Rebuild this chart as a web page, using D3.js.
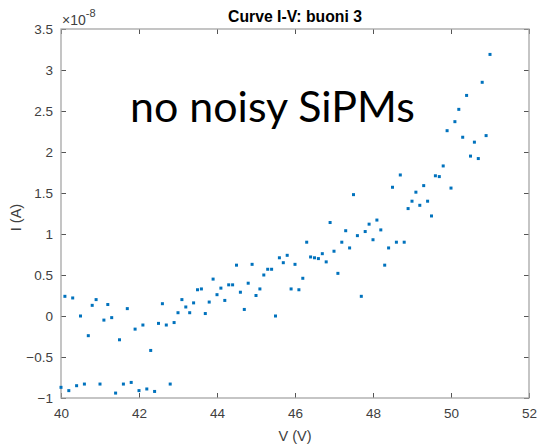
<!DOCTYPE html>
<html>
<head>
<meta charset="utf-8">
<script src="https://cdn.jsdelivr.net/npm/d3@7"></script>
<style>
  body { margin: 0; background: #fff; }
  svg { display: block; }
  text { font-family: "Liberation Sans", Arial, Helvetica, sans-serif; }
</style>
</head>
<body>
<div id="chart"></div>
<script>
// DATA ////////////////////////////////////////////////////////////
// voltage (V)
var voltage = [
  40.0, 40.1, 40.2, 40.3, 40.4, 40.5, 40.6, 40.7, 40.8, 40.9,
  41.0, 41.1, 41.2, 41.3, 41.4, 41.5, 41.6, 41.7, 41.8, 41.9,
  42.0, 42.1, 42.2, 42.3, 42.4, 42.5, 42.6, 42.7, 42.8, 42.9,
  43.0, 43.1, 43.2, 43.3, 43.4, 43.5, 43.6, 43.7, 43.8, 43.9,
  44.0, 44.1, 44.2, 44.3, 44.4, 44.5, 44.6, 44.7, 44.8, 44.9,
  45.0, 45.1, 45.2, 45.3, 45.4, 45.5, 45.6, 45.7, 45.8, 45.9,
  46.0, 46.1, 46.2, 46.3, 46.4, 46.5, 46.6, 46.7, 46.8, 46.9,
  47.0, 47.1, 47.2, 47.3, 47.4, 47.5, 47.6, 47.7, 47.8, 47.9,
  48.0, 48.1, 48.2, 48.3, 48.4, 48.5, 48.6, 48.7, 48.8, 48.9,
  49.0, 49.1, 49.2, 49.3, 49.4, 49.5, 49.6, 49.7, 49.8, 49.9,
  50.0, 50.1, 50.2, 50.3, 50.4, 50.5, 50.6, 50.7, 50.8, 50.9,
  51.0
];
// current, in units of 1e-8 A
var current = [
  -0.87, 0.24, -0.91, 0.22, -0.85, 0.00, -0.83, -0.24, 0.13, 0.20,
  -0.83, -0.05, 0.14, -0.02, -0.94, -0.29, -0.83, 0.09, -0.81, -0.16,
  -0.91, -0.11, -0.89, -0.42, -0.92, -0.09, 0.15, -0.11, -0.83, -0.08,
  0.04, 0.20, 0.11, 0.04, 0.16, 0.32, 0.33, 0.03, 0.17, 0.45,
  0.26, 0.34, 0.19, 0.38, 0.38, 0.62, 0.29, 0.08, 0.40, 0.63,
  0.25, 0.33, 0.50, 0.57, 0.57, 0.00, 0.71, 0.65, 0.74, 0.33,
  0.63, 0.32, 0.46, 0.90, 0.72, 0.71, 0.70, 0.76, 0.66, 1.14,
  0.79, 0.52, 0.90, 1.04, 0.83, 1.48, 0.98, 0.24, 1.03, 1.12,
  0.93, 1.17, 1.05, 0.62, 0.83, 1.57, 0.90, 1.72, 0.90, 1.31,
  1.40, 1.51, 1.35, 1.59, 1.40, 1.22, 1.71, 1.70, 1.83, 2.26,
  1.56, 2.37, 2.52, 2.18, 2.69, 1.95, 2.12, 1.92, 2.85, 2.20,
  3.19
];
var xTicks = [40, 42, 44, 46, 48, 50, 52];
var yTicks = [-1, -0.5, 0, 0.5, 1, 1.5, 2, 2.5, 3, 3.5];

// SETUP ///////////////////////////////////////////////////////////
var width = 539, height = 446;
var margin = {top: 29, right: 10, bottom: 48, left: 61};
var plotW = width - margin.left - margin.right;
var plotH = height - margin.top - margin.bottom;

var svg = d3.select("#chart").append("svg")
  .attr("width", width).attr("height", height);

var x = d3.scaleLinear().domain([40, 52]).range([margin.left, margin.left + plotW]);
var y = d3.scaleLinear().domain([-1, 3.5]).range([margin.top + plotH, margin.top]);

var boxColor = "#a6a6a6";

// AXES ////////////////////////////////////////////////////////////
function styleAxis(g){
  g.select(".domain").remove();
  g.selectAll(".tick line").attr("stroke", "#555");
  g.selectAll(".tick text").attr("fill", "#404040").style("font-size", "13.5px");
}

svg.append("g").attr("transform", "translate(0," + (margin.top + plotH) + ")")
  .call(d3.axisBottom(x).tickValues(xTicks).tickSize(-5).tickPadding(10).tickFormat(d3.format("d")))
  .call(styleAxis);
svg.append("g").attr("transform", "translate(0," + margin.top + ")")
  .call(d3.axisTop(x).tickValues(xTicks).tickSize(-5).tickFormat(""))
  .call(styleAxis);
svg.append("g").attr("transform", "translate(" + margin.left + ",0)")
  .call(d3.axisLeft(y).tickValues(yTicks).tickSize(-5).tickPadding(8).tickFormat(d3.format("")))
  .call(styleAxis);
svg.append("g").attr("transform", "translate(" + (margin.left + plotW) + ",0)")
  .call(d3.axisRight(y).tickValues(yTicks).tickSize(-5).tickFormat(""))
  .call(styleAxis);

// box
svg.append("rect")
  .attr("x", margin.left).attr("y", margin.top)
  .attr("width", plotW).attr("height", plotH)
  .attr("fill", "none").attr("stroke", boxColor).attr("stroke-width", 1.3);

// POINTS //////////////////////////////////////////////////////////
svg.append("g").attr("class", "points")
  .selectAll("rect").data(voltage)
  .enter().append("rect")
  .attr("x", function(d){ return x(d) - 1.5; })
  .attr("y", function(d, i){ return y(current[i]) - 1.5; })
  .attr("width", 3).attr("height", 3)
  .attr("fill", "#0072BD");

// TEXT ////////////////////////////////////////////////////////////
var title = svg.append("text")
  .attr("x", margin.left + plotW / 2).attr("y", 22)
  .attr("text-anchor", "middle")
  .style("font-size", "13px").style("font-weight", "bold")
  .attr("fill", "#000")
  .text("Curve I-V: buoni 3");
title.style("font-size", (13 * 134 / title.node().getComputedTextLength()) + "px");

var expo = svg.append("text")
  .attr("x", margin.left + 1).attr("y", 25)
  .attr("fill", "#404040").style("font-size", "14px");
expo.append("tspan").text("\u00d710");
expo.append("tspan").attr("dy", -8).style("font-size", "11px").text("-8");

svg.append("text")
  .attr("x", margin.left + plotW / 2).attr("y", 441)
  .attr("text-anchor", "middle")
  .attr("fill", "#404040").style("font-size", "14.5px")
  .text("V (V)");

svg.append("text")
  .attr("transform", "translate(21," + (margin.top + plotH / 2 + 4) + ") rotate(-90)")
  .attr("text-anchor", "middle")
  .attr("fill", "#404040").style("font-size", "14.5px")
  .text("I (A)");

var note = svg.append("text")
  .attr("x", 130).attr("y", 122)
  .attr("fill", "#000")
  .style("font-family", "Lato, 'Open Sans', sans-serif")
  .style("font-size", "40px")
  .text("no noisy SiPMs");
// fit the annotation to the width it has in the picture
var noteW = note.node().getComputedTextLength();
note.style("font-size", (40 * 285 / noteW) + "px");
</script>
</body>
</html>
